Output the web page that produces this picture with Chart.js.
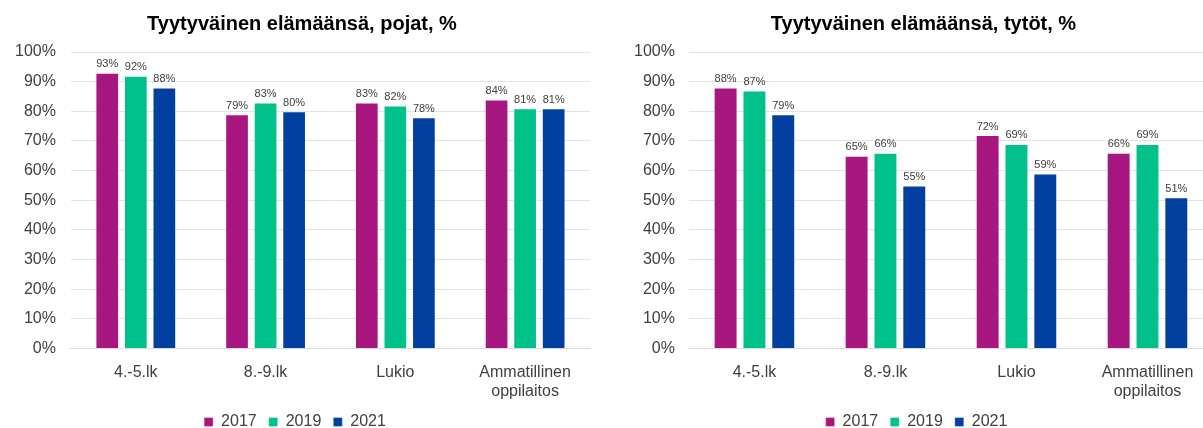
<!DOCTYPE html>
<html>
<head>
  <title>Tyytyväinen elämäänsä</title>
  <script src="https://cdn.jsdelivr.net/npm/chart.js"></script>
  <style>
    body { margin: 0; background: #fff; overflow: hidden; }
    .wrap { position: absolute; top: 0; height: 440px; }
    #left { left: 0; width: 601px; }
    #right { left: 601px; width: 630px; }
  </style>
</head>
<body>
  <div class="wrap" id="left"><canvas id="boysChart"></canvas></div>
  <div class="wrap" id="right"><canvas id="girlsChart"></canvas></div>

  <script>
    const categories = ['4.-5.lk', '8.-9.lk', 'Lukio', ['Ammatillinen', 'oppilaitos']];
    const years = ['2017', '2019', '2021'];
    const colors = ['#A8177F', '#00C18A', '#0140A0'];

    const boys2017 = [93, 79, 83, 84];
    const boys2019 = [92, 83, 82, 81];
    const boys2021 = [88, 80, 78, 81];

    const girls2017 = [88, 65, 72, 66];
    const girls2019 = [87, 66, 69, 69];
    const girls2021 = [79, 55, 59, 51];

    const FONT = 'Arial, "Liberation Sans", sans-serif';

    const valueLabels = {
      id: 'valueLabels',
      afterDatasetsDraw(chart) {
        const ctx = chart.ctx;
        ctx.save();
        ctx.font = '11px ' + FONT;
        ctx.fillStyle = '#404040';
        ctx.textAlign = 'center';
        ctx.textBaseline = 'bottom';
        chart.data.datasets.forEach((ds, i) => {
          chart.getDatasetMeta(i).data.forEach((bar, j) => {
            ctx.fillText(ds.data[j] + '%', bar.x, bar.y - 3);
          });
        });
        ctx.restore();
      }
    };

    // nudge the title sideways, it is not centred on the canvas in the original
    const titleShift = {
      id: 'titleShift',
      afterLayout(chart, args, opts) {
        const t = chart.titleBlock;
        if (t) { t.left += opts.dx; t.right += opts.dx; }
      }
    };

    const createChart = (canvas, title, series, pad, yPad, dx) => {
      return new Chart(canvas, {
        type: 'bar',
        data: {
          labels: categories,
          datasets: series.map((data, i) => ({
            label: years[i],
            data: data,
            backgroundColor: colors[i],
            borderColor: 'rgba(255,255,255,0.35)',
            borderWidth: 1,
            categoryPercentage: 0.66,
            barPercentage: 0.83
          }))
        },
        options: {
          animation: false,
          responsive: true,
          maintainAspectRatio: false,
          layout: { padding: pad },
          plugins: {
            titleShift: { dx: dx },
            title: {
              display: true,
              text: title,
              color: '#000',
              font: { family: FONT, size: 20, weight: 'bold' },
              padding: { top: 0, bottom: 16 }
            },
            legend: {
              position: 'bottom',
              labels: {
                boxWidth: 9,
                boxHeight: 9,
                padding: 12,
                color: '#404040',
                font: { family: FONT, size: 16 }
              }
            },
            tooltip: { enabled: false }
          },
          scales: {
            x: {
              grid: { display: false },
              border: { color: '#d9d9d9' },
              ticks: {
                color: '#404040',
                padding: 6,
                maxRotation: 0,
                font: { family: FONT, size: 16 }
              },
              afterFit: s => { s.height -= 5; }
            },
            y: {
              min: 0,
              max: 100,
              grid: { color: '#e3e3e3', drawTicks: false },
              border: { display: false },
              ticks: {
                stepSize: 10,
                padding: yPad,
                color: '#404040',
                font: { family: FONT, size: 16 },
                callback: v => v + '%'
              }
            }
          }
        },
        plugins: [valueLabels, titleShift]
      });
    };

    createChart(document.getElementById('boysChart'), 'Tyytyväinen elämäänsä, pojat, %',
      [boys2017, boys2019, boys2021], { top: 12, left: 0, right: 11, bottom: 0 }, 15, 7);
    createChart(document.getElementById('girlsChart'), 'Tyytyväinen elämäänsä, tytöt, %',
      [girls2017, girls2019, girls2021], { top: 12, left: 19, right: 18, bottom: 0 }, 14, 7);
  </script>
</body>
</html>
